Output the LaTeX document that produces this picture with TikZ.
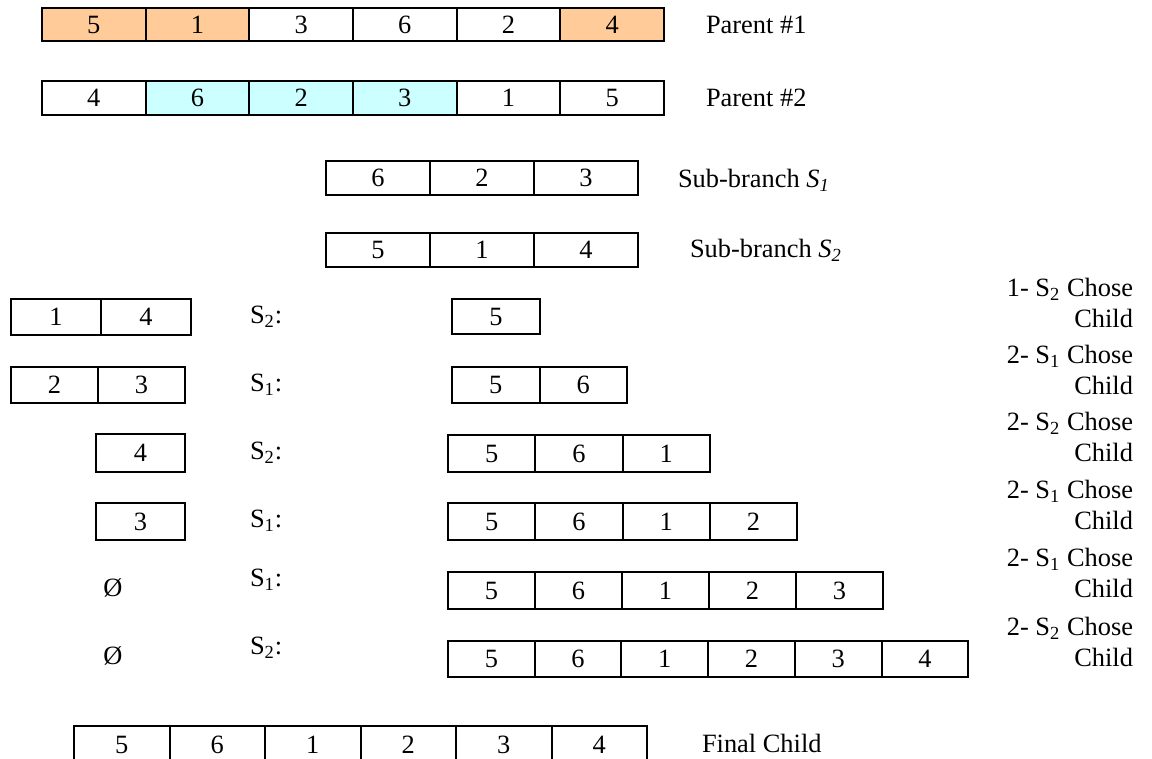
\documentclass[tikz,border=0pt]{standalone}
\usepackage{fontspec}
\setmainfont{Liberation Serif}
\definecolor{peach}{HTML}{FFCC99}
\definecolor{cyanl}{HTML}{CCFFFF}
\newcommand{\cellrow}[6]{%
  \foreach \v/\f [count=\i] in {#6} {
    \node[cell, fill=\f, minimum width={#5*0.5pt}, minimum height={(#4-#3)*0.5pt}]
      (#1-\i) at ({#2+(\i-0.5)*#5},{(#3+#4)/2}) {\v};
  }}
\newcommand{\Ssub}[1]{S\textsubscript{#1}}
\begin{document}
\begin{tikzpicture}[x=0.5pt,y=-0.5pt,
  cell/.style={draw,line width=1pt,inner sep=0pt,outer sep=0pt,font=\fontsize{13.2}{15}\selectfont},
  lbl/.style={inner sep=0pt,outer sep=0pt,font=\fontsize{13.2}{15}\selectfont},
  note/.style={inner sep=0pt,outer sep=0pt,align=right,anchor=east,font=\fontsize{13.2}{15.5}\selectfont}]
\useasboundingbox (0,0) rectangle (1152,759);
% parents
\cellrow{pa}{42}{8}{41}{103.67}{5/peach,1/peach,3/white,6/white,2/white,4/peach}
\cellrow{pb}{42}{81}{115}{103.67}{4/white,6/cyanl,2/cyanl,3/cyanl,1/white,5/white}
\node[lbl,anchor=west] (lpa) at (706,25) {Parent \#1};
\node[lbl,anchor=west] (lpb) at (706,98) {Parent \#2};
% sub-branches
\cellrow{sa}{326}{161}{195}{104}{6/white,2/white,3/white}
\cellrow{sb}{326}{233}{267}{104}{5/white,1/white,4/white}
\node[lbl,anchor=west] (lsa) at (678,180) {Sub-branch \textit{S\textsubscript{1}}};
\node[lbl,anchor=west] (lsb) at (690,250) {Sub-branch \textit{S\textsubscript{2}}};
% remaining sets
\cellrow{la}{11}{299}{335}{90}{1/white,4/white}
\cellrow{lb}{11}{367}{403}{87}{2/white,3/white}
\cellrow{lc}{96}{434}{472}{89}{4/white}
\cellrow{ld}{96}{503}{540}{89}{3/white}
\node[lbl] (le) at (113,588) {Ø};
\node[lbl] (lf) at (113,656) {Ø};
% chosen labels
\node[lbl,anchor=west] (ca) at (250,317) {\Ssub{2}:};
\node[lbl,anchor=west] (cb) at (250,385) {\Ssub{1}:};
\node[lbl,anchor=west] (cc) at (250,453) {\Ssub{2}:};
\node[lbl,anchor=west] (cd) at (250,521) {\Ssub{1}:};
\node[lbl,anchor=west] (ce) at (250,580) {\Ssub{1}:};
\node[lbl,anchor=west] (cf) at (250,648) {\Ssub{2}:};
% child rows
\cellrow{ra}{452}{299}{334}{88}{5/white}
\cellrow{rb}{452}{367}{403}{87.5}{5/white,6/white}
\cellrow{rc}{448}{435}{472}{87.3}{5/white,6/white,1/white}
\cellrow{rd}{448}{503}{540}{87.25}{5/white,6/white,1/white,2/white}
\cellrow{re}{448}{572}{609}{87}{5/white,6/white,1/white,2/white,3/white}
\cellrow{rf}{448}{641}{677}{86.7}{5/white,6/white,1/white,2/white,3/white,4/white}
% notes
\node[note] (na) at (1133,303) {1- \Ssub{2} Chose\\Child};
\node[note] (nb) at (1133,370) {2- \Ssub{1} Chose\\Child};
\node[note] (nc) at (1133,437) {2- \Ssub{2} Chose\\Child};
\node[note] (nd) at (1133,505) {2- \Ssub{1} Chose\\Child};
\node[note] (ne) at (1133,573) {2- \Ssub{1} Chose\\Child};
\node[note] (nf) at (1133,642) {2- \Ssub{2} Chose\hspace{3pt}\\Child};
% final child
\cellrow{fc}{74}{726}{763}{95.5}{5/white,6/white,1/white,2/white,3/white,4/white}
\node[lbl,anchor=west] (lfc) at (702,743) {Final Child};
\end{tikzpicture}
\end{document}
